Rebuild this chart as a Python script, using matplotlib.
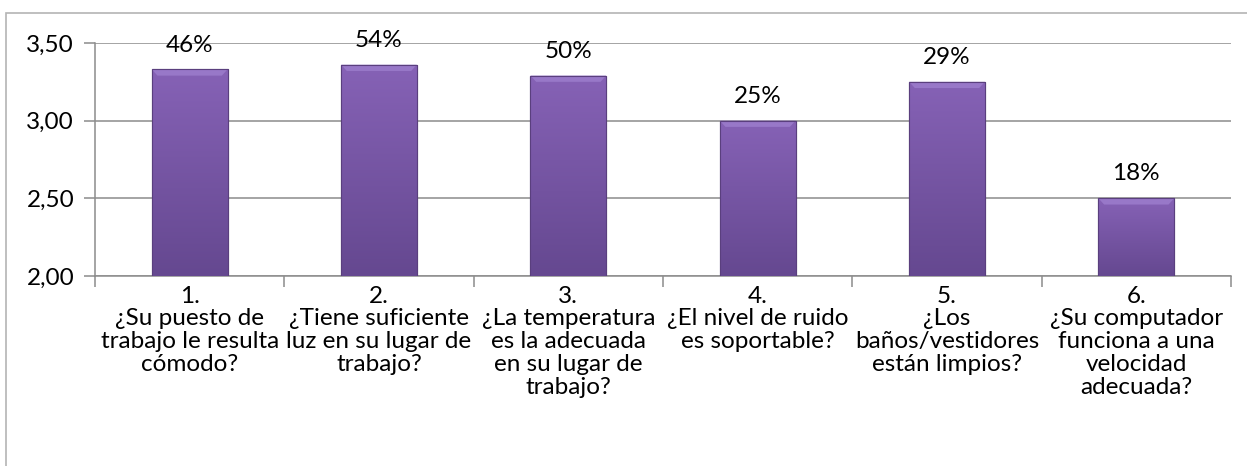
import matplotlib
matplotlib.use("Agg")
import matplotlib.pyplot as plt
import numpy as np
from matplotlib.patches import Rectangle
from matplotlib.ticker import FuncFormatter, FixedLocator

plt.rcParams['font.family'] = ['Lato', 'DejaVu Sans']

# promedio por pregunta y porcentaje mostrado sobre cada barra
preguntas = [
    "1.\n¿Su puesto de\ntrabajo le resulta\ncómodo?",
    "2.\n¿Tiene suficiente\nluz en su lugar de\ntrabajo?",
    "3.\n¿La temperatura\nes la adecuada\nen su lugar de\ntrabajo?",
    "4.\n¿El nivel de ruido\nes soportable?",
    "5.\n¿Los\nbaños/vestidores\nestán limpios?",
    "6.\n¿Su computador\nfunciona a una\nvelocidad\nadecuada?",
]
promedios = [3.33, 3.36, 3.29, 3.00, 3.25, 2.50]
porcentajes = ["46%", "54%", "50%", "25%", "29%", "18%"]

W, H = 1247, 466
fig = plt.figure(figsize=(W / 100, H / 100), dpi=100)
ax = fig.add_axes([95 / W, 1 - 276 / H, (1231 - 95) / W, (276 - 43) / H])

# marco exterior del gráfico
fig.patches.append(Rectangle((6 / W, -0.1), 1.2, 1.1 - 13 / H, transform=fig.transFigure,
                             fill=False, edgecolor='#b4b4b4', linewidth=1.2))

gris = '#8c8c8c'
x = np.arange(len(preguntas))
ancho = 0.40
barras = ax.bar(x, promedios, width=ancho, color='#7b5aa6', edgecolor='#5a3f7e',
                linewidth=0.8, zorder=3)

# degradado vertical y bisel claro arriba
grad = np.linspace(0, 1, 256).reshape(-1, 1)
cmap = matplotlib.colors.LinearSegmentedColormap.from_list('morado', ['#654890', '#8662b6'])
for b in barras:
    x0, y0 = b.get_x(), b.get_y()
    w, h = b.get_width(), b.get_height()
    im = ax.imshow(grad, extent=(x0, x0 + w, 2.0, y0 + h), origin='lower', cmap=cmap,
                   aspect='auto', zorder=3.5)
    im.set_clip_path(b)
    bisel = 0.04
    ax.fill([x0, x0 + w, x0 + w - 0.03, x0 + 0.03], [y0 + h, y0 + h, y0 + h - bisel, y0 + h - bisel],
            color='#9878c8', zorder=4, linewidth=0)
    ax.add_patch(Rectangle((x0, y0), w, h, fill=False, edgecolor='#5a3f7e', linewidth=0.8, zorder=4.5))

for xi, v, p in zip(x, promedios, porcentajes):
    ax.annotate(p, (xi, v), xytext=(0, 10), textcoords='offset points', ha='center', va='bottom',
                fontsize=17.5, color='#000000', zorder=5)

ax.set_xlim(-0.5, len(preguntas) - 0.5)
ax.set_ylim(2.0, 3.5)
ax.set_yticks([2.0, 2.5, 3.0, 3.5])
ax.yaxis.set_major_formatter(FuncFormatter(lambda v, _: f"{v:.2f}".replace('.', ',')))
ax.yaxis.grid(True, color=gris, linewidth=1.1, zorder=0)
ax.set_axisbelow(True)

ax.set_xticks(x)
ax.set_xticklabels(preguntas, fontsize=17.5, linespacing=1.1)
ax.xaxis.set_minor_locator(FixedLocator(np.arange(-0.5, len(preguntas), 1.0)))
ax.tick_params(axis='x', which='major', length=0, pad=7)
ax.tick_params(axis='x', which='minor', length=8, width=1.1, color=gris)
ax.tick_params(axis='y', length=8, width=1.1, color=gris, labelsize=17.5, pad=7)

for s in ['top', 'right']:
    ax.spines[s].set_visible(False)
for s in ['left', 'bottom']:
    ax.spines[s].set_color(gris)
    ax.spines[s].set_linewidth(1.1)

fig.savefig('out.png', dpi=100)
